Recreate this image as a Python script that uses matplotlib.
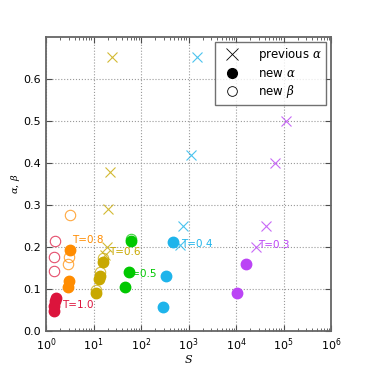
import numpy as np
import matplotlib.pyplot as plt
from matplotlib.lines import Line2D

# temperatures and their colours
temps = ['T=1.0', 'T=0.8', 'T=0.6', 'T=0.5', 'T=0.4', 'T=0.3']
colors = ['crimson', '#ff8c00', '#c8a800', '#00c800', '#1eb4eb', '#bb44f5']

# previous alpha (crosses)
prev_S = [[], [], [24.5, 22, 20.5, 19, 17.5], [], [1490, 1150, 760, 650], [1.1e5, 6.5e4, 4.2e4, 2.6e4]]
prev_a = [[], [], [0.651, 0.379, 0.29, 0.2, 0.18], [], [0.651, 0.42, 0.25, 0.205], [0.5, 0.4, 0.251, 0.2]]

# new alpha (filled circles)
new_S = [[1.6, 1.55, 1.5, 1.5], [3.25, 3.0, 2.9], [15.8, 13.7, 12.9, 11.1], [61.5, 55, 46],
         [480, 335, 290], [16500, 10300]]
new_a = [[0.079, 0.071, 0.060, 0.047], [0.194, 0.12, 0.105], [0.165, 0.132, 0.125, 0.09],
         [0.215, 0.14, 0.104], [0.213, 0.131, 0.058], [0.16, 0.092]]

# new beta (open circles)
beta_S = [[1.55, 1.5, 1.45], [3.25, 3.05, 2.9], [16, 13.7, 11.1], [62], [], []]
beta_b = [[0.215, 0.177, 0.142], [0.276, 0.177, 0.16], [0.175, 0.14, 0.098], [0.219], [], []]

# label positions (data coords)
lab_S = [2.2, 3.5, 21, 46, 700, 2.9e4]
lab_y = [0.062, 0.218, 0.188, 0.135, 0.208, 0.205]

plt.rcParams['font.family'] = ['DejaVu Sans']
plt.rcParams['mathtext.fontset'] = 'dejavuserif'
fig = plt.figure(figsize=(3.68, 3.68), dpi=100, facecolor='white')
ax = fig.add_axes([0.125, 0.1, 0.775, 0.8])

for i in range(len(temps)):
    c = colors[i]
    ax.plot(prev_S[i], prev_a[i], 'x', color=c, ms=7, mew=0.8, alpha=0.8, zorder=3)
    ax.plot(beta_S[i], beta_b[i], 'o', mfc='none', mec=c, ms=7.5, mew=0.8, alpha=0.75, zorder=3)
    ax.plot(new_S[i], new_a[i], 'o', color=c, mec=c, ms=7.5, zorder=4)
    ax.text(lab_S[i], lab_y[i], temps[i], color=c, fontsize=7.5, va='center', zorder=2)

ax.set_xscale('log')
ax.set_xlim(1, 1e6)
ax.set_ylim(0, 0.7)
ax.set_yticks(np.arange(0, 0.61, 0.1))
ax.set_xlabel('$S$', fontsize=8, labelpad=0)
ax.set_ylabel(r'$\alpha,\,\beta$', fontsize=7, labelpad=1)
ax.tick_params(which='both', direction='in', top=True, right=True, labelsize=8, color='0.3')
ax.tick_params(which='major', length=4)
ax.tick_params(which='minor', length=2)
ax.grid(True, which='major', color='0.6', linestyle=':', linewidth=0.8)
for s in ax.spines.values():
    s.set_color('0.4')
    s.set_linewidth(1.3)

handles = [Line2D([], [], ls='none', marker='x', color='k', ms=8, mew=0.6),
           Line2D([], [], ls='none', marker='o', color='k', ms=7),
           Line2D([], [], ls='none', marker='o', mfc='none', mec='k', ms=7, mew=0.6)]
leg = ax.legend(handles, [r'previous $\alpha$', r'new $\alpha$', r'new $\beta$'],
                loc='upper right', fontsize=8.5, fancybox=False, numpoints=1,
                borderaxespad=0.4, handletextpad=1.2, labelspacing=0.3)
leg.get_frame().set_edgecolor('0.3')
leg.get_frame().set_linewidth(1.0)

plt.savefig('out.png', dpi=100, facecolor='white')
